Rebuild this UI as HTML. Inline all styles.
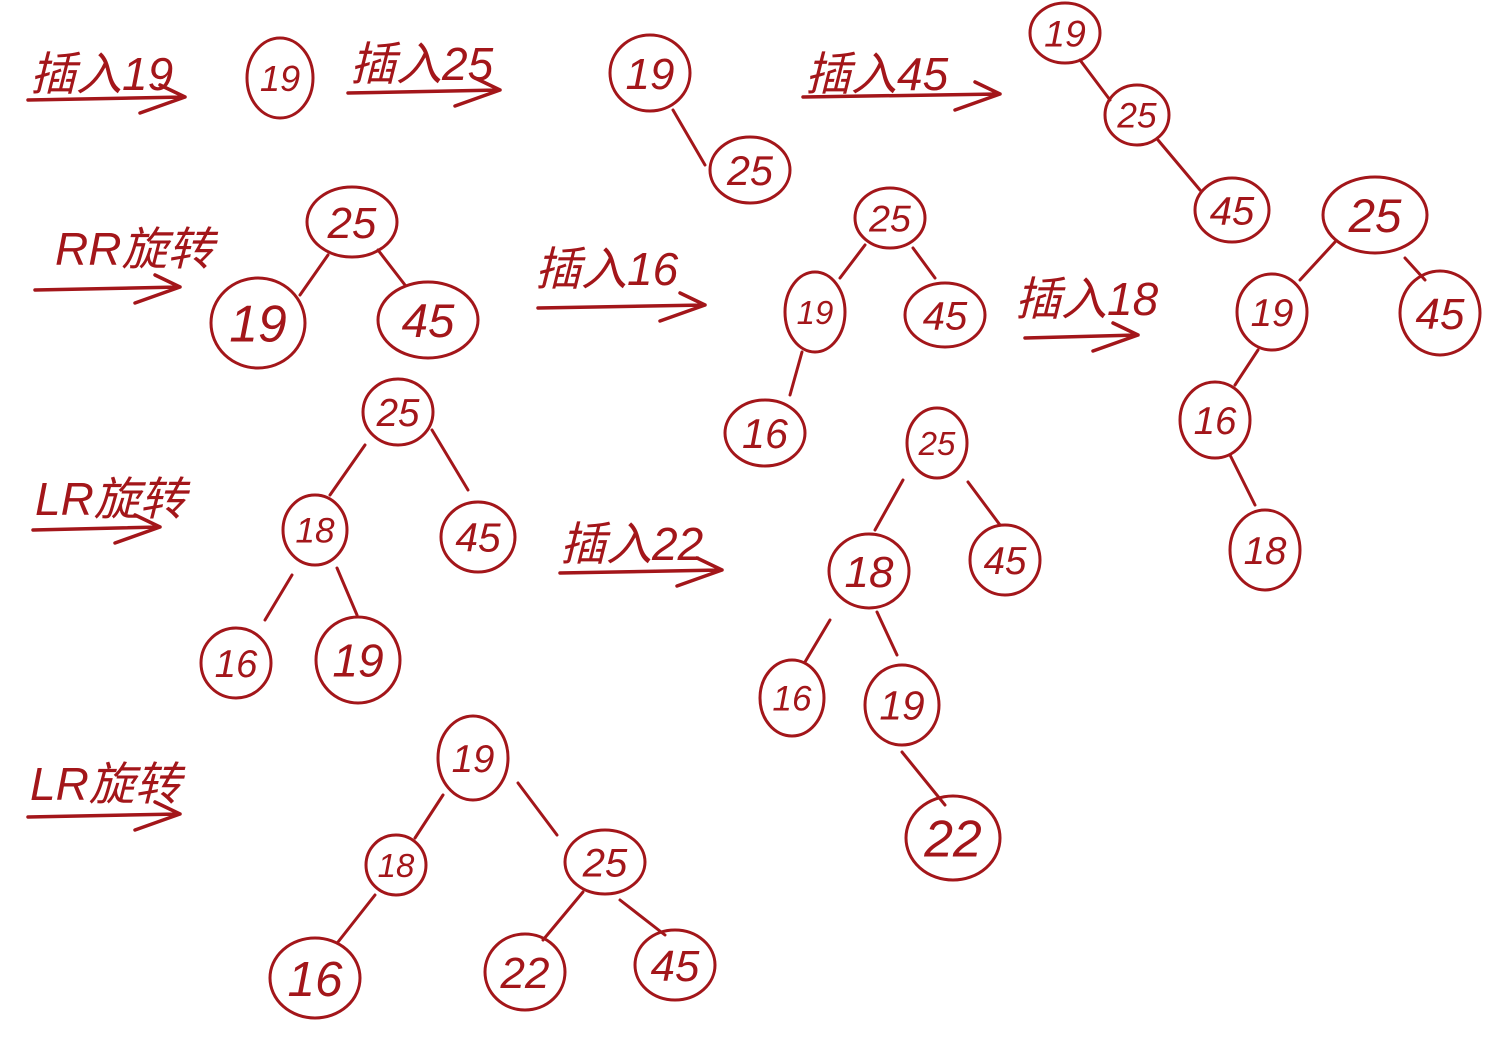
<!DOCTYPE html>
<html><head><meta charset="utf-8"><style>
html,body{margin:0;padding:0;background:#fff;width:1495px;height:1045px;overflow:hidden}
svg{display:block}
</style></head><body>
<svg id="c" width="1495" height="1045" viewBox="0 0 1495 1045" xmlns="http://www.w3.org/2000/svg"></svg>
<script>
const nodeLabels = ["19","19","25","19","25","45","25","19","45","25","19","45","16","25","19","45","16","18","25","18","45","16","19","25","18","45","16","19","22","19","18","25","16","22","45"];
const nodeX = [280,650,750,1065,1137,1232,352,258,428,890,815,945,765,1375,1272,1440,1215,1265,398,315,478,236,358,937,869,1005,792,902,953,473,396,605,315,525,675];
const nodeY = [78,73,170,33,115,210,222,323,320,218,312,315,433,215,312,313,420,550,412,530,537,663,660,443,571,560,698,705,838,758,865,862,978,972,965];
const nodeRx = [33,40,40,35,32,37,45,47,50,35,30,40,40,52,35,40,35,35,35,32,37,35,42,30,40,35,32,37,47,35,30,40,45,40,40];
const nodeRy = [40,38,33,30,30,32,35,45,38,30,40,32,33,38,38,42,38,40,33,35,35,35,43,35,37,35,38,40,42,42,30,32,40,38,35];
const edges = [[673,110,705,165],[1080,60,1110,100],[1158,140,1200,190],[328,255,300,295],[378,250,405,285],[865,245,840,278],[913,248,935,278],[802,352,790,395],[1335,242,1300,280],[1405,258,1425,280],[1258,350,1235,385],[1230,455,1255,505],[365,445,330,495],[432,430,468,490],[292,575,265,620],[337,568,357,615],[903,480,875,530],[968,482,1000,525],[830,620,805,662],[877,612,897,655],[902,752,945,805],[443,795,415,838],[518,783,557,835],[375,895,338,942],[583,892,543,940],[620,900,665,935]];
const stepLabels = ["插入19","插入25","插入45","RR旋转","插入16","插入18","LR旋转","插入22","LR旋转"];
const stepX = [30,350,805,55,535,1015,35,560,30];
const stepY = [90,80,90,265,285,315,515,560,800];
const arrowX1 = [28,348,803,35,538,1025,33,560,28];
const arrowX2 = [185,500,1000,180,705,1138,160,722,180];
const arrowY = [100,93,97,290,308,338,530,573,817];

const C = "#a3161a";
const svg = document.getElementById('c');
const NS = "http://www.w3.org/2000/svg";
function mk(tag, attrs){const e=document.createElementNS(NS,tag);for(const k in attrs)e.setAttribute(k,attrs[k]);svg.appendChild(e);return e;}

edges.forEach(function(e){
  const l = mk('line',{x1:e[0],y1:e[1],x2:e[2],y2:e[3],stroke:C,'stroke-width':3,'stroke-linecap':'round'});
  
  
});
nodeLabels.forEach(function(t,i){
  const el = mk('ellipse',{cx:nodeX[i],cy:nodeY[i],rx:nodeRx[i],ry:nodeRy[i],fill:'none',stroke:C,'stroke-width':3});
  
  
  const fs = Math.min(nodeRy[i]*1.25, nodeRx[i]*1.1);
  const tx = mk('text',{x:nodeX[i],y:nodeY[i]+fs*0.36,'text-anchor':'middle','font-size':fs,'font-style':'italic',fill:C,'font-family':'"Liberation Sans", sans-serif'});
  tx.textContent = t;
  
  
});
stepLabels.forEach(function(t,i){
  const tx = mk('text',{x:stepX[i],y:stepY[i],'font-size':46,'font-style':'italic',fill:C,'font-family':'"Liberation Sans", "Noto Sans CJK SC", sans-serif'});
  tx.textContent = t;
  
  
  const a = mk('path',{d:'M'+arrowX1[i]+' '+arrowY[i]+' L'+arrowX2[i]+' '+(arrowY[i]-3)+' M'+(arrowX2[i]-25)+' '+(arrowY[i]-15)+' L'+arrowX2[i]+' '+(arrowY[i]-3)+' L'+(arrowX2[i]-45)+' '+(arrowY[i]+13),fill:'none',stroke:C,'stroke-width':3.5,'stroke-linecap':'round','stroke-linejoin':'round'});
  
  
});
</script>
</body></html>
